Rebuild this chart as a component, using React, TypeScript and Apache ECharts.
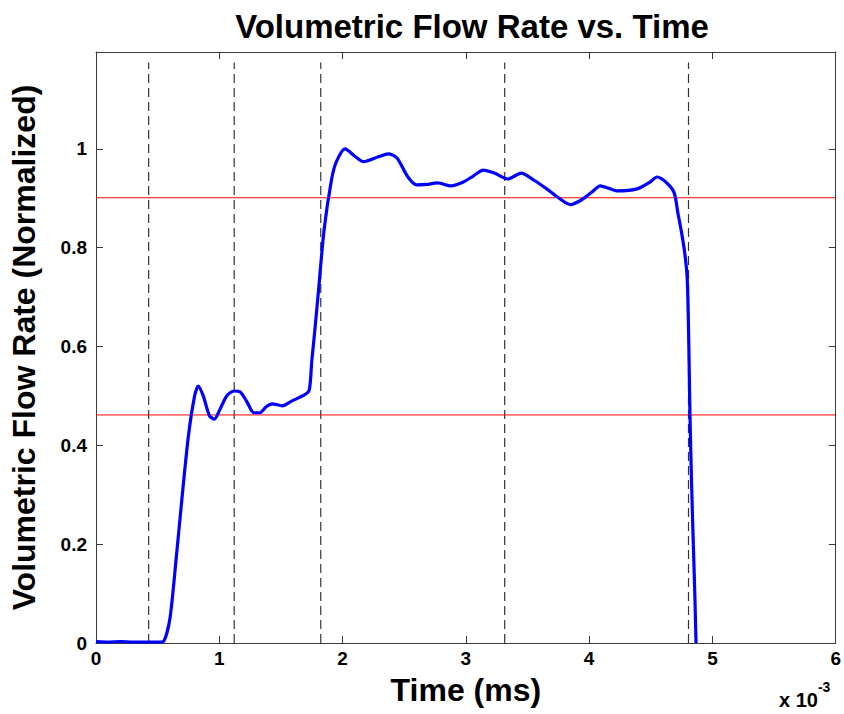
import React, { useEffect, useRef } from "react";
import * as echarts from "echarts";

const timeMs = [0, 0.1, 0.2, 0.3, 0.4, 0.5, 0.55, 0.6, 0.65, 0.7, 0.75, 0.8, 0.83, 0.87, 0.92, 0.96, 1.0, 1.06, 1.12, 1.17, 1.22, 1.28, 1.33, 1.38, 1.43, 1.51, 1.59, 1.69, 1.73, 1.75, 1.77, 1.8, 1.85, 1.91, 1.95, 2.02, 2.1, 2.17, 2.29, 2.37, 2.44, 2.53, 2.6, 2.68, 2.77, 2.88, 2.98, 3.06, 3.14, 3.23, 3.34, 3.45, 3.55, 3.65, 3.74, 3.85, 3.94, 4.02, 4.09, 4.16, 4.23, 4.39, 4.49, 4.55, 4.63, 4.69, 4.72, 4.75, 4.775, 4.795, 4.805, 4.812, 4.818, 4.83, 4.845, 4.857, 4.867];
const flowRate = [0.003, 0.002, 0.003, 0.002, 0.002, 0.002, 0.004, 0.05, 0.17, 0.3, 0.42, 0.5, 0.52, 0.5, 0.46, 0.453, 0.47, 0.5, 0.51, 0.508, 0.49, 0.466, 0.466, 0.478, 0.484, 0.48, 0.49, 0.502, 0.512, 0.57, 0.62, 0.7, 0.836, 0.937, 0.974, 1.0, 0.985, 0.974, 0.984, 0.99, 0.982, 0.943, 0.927, 0.928, 0.931, 0.925, 0.933, 0.945, 0.957, 0.951, 0.939, 0.951, 0.937, 0.92, 0.903, 0.887, 0.897, 0.912, 0.925, 0.92, 0.915, 0.919, 0.932, 0.943, 0.931, 0.911, 0.87, 0.83, 0.79, 0.74, 0.65, 0.55, 0.46, 0.33, 0.2, 0.1, 0.0];
const markerTimes = [0.427, 1.121, 1.823, 3.315, 4.806];
const thresholds = [0.901, 0.4615];
const xTicks = [0, 1, 2, 3, 4, 5, 6];
const yTickLabels = ["0", "0.2", "0.4", "0.6", "0.8", "1"];

const FONT = "Arial, 'Liberation Sans', sans-serif";

export default function App() {
  const ref = useRef<HTMLDivElement>(null);
  useEffect(() => {
    if (!ref.current) return;
    const chart = echarts.init(ref.current, undefined, { renderer: "svg" });
    const frame = "#3a3a3a";
    const labelStyle = { fontFamily: FONT, fontWeight: "bold" as const, fontSize: 19, color: "#000" };
    const lineAxis = { show: true, onZero: false, lineStyle: { color: frame, width: 1 } };
    const tick = { show: true, inside: true, length: 7, lineStyle: { color: frame } };
    const series: any[] = [];
    markerTimes.forEach((t) => {
      series.push({
        type: "line",
        data: [[t, 0], [t, 1.175]],
        symbol: "none",
        silent: true,
        lineStyle: { color: "#333", width: 1.2, type: [9, 5] },
        z: 1,
      });
    });
    thresholds.forEach((v) => {
      series.push({
        type: "line",
        data: [[0, v], [6, v]],
        symbol: "none",
        silent: true,
        lineStyle: { color: "#ff0000", width: 1 },
        z: 2,
      });
    });
    series.push({
      type: "line",
      data: timeMs.map((t, i) => [t, flowRate[i]]),
      symbol: "none",
      smooth: 0.25,
      lineStyle: { color: "#0000ff", width: 3.2 },
      z: 3,
    });
    chart.setOption({
      animation: false,
      backgroundColor: "#fff",
      title: {
        text: "Volumetric Flow Rate vs. Time",
        left: 467,
        textAlign: "center",
        top: 5,
        textStyle: { fontFamily: FONT, fontWeight: "bold", fontSize: 33, color: "#000" },
      },
      grid: { left: 93, right: 7, top: 52, bottom: 71 },
      xAxis: [
        {
          type: "value",
          min: 0,
          max: 6,
          interval: 1,
          name: "Time (ms)",
          nameLocation: "middle",
          nameGap: 31,
          nameTextStyle: { fontFamily: FONT, fontWeight: "bold", fontSize: 32, color: "#000" },
          axisLine: lineAxis,
          axisTick: tick,
          axisLabel: { ...labelStyle, margin: 6, formatter: (v: number) => (xTicks.includes(v) ? String(v) : "") },
          splitLine: { show: false },
        },
        {
          type: "value",
          position: "top",
          min: 0,
          max: 6,
          interval: 1,
          axisLine: lineAxis,
          axisTick: tick,
          axisLabel: { show: false },
          splitLine: { show: false },
        },
      ],
      yAxis: [
        {
          type: "value",
          min: 0,
          max: 1.196,
          interval: 0.2,
          name: "Volumetric Flow Rate (Normalized)",
          nameLocation: "middle",
          nameGap: 56,
          nameTextStyle: { fontFamily: FONT, fontWeight: "bold", fontSize: 32, color: "#000" },
          axisLine: lineAxis,
          axisTick: tick,
          axisLabel: {
            ...labelStyle,
            margin: 9,
            showMaxLabel: false,
            formatter: (v: number) => {
              const i = Math.round(v / 0.2);
              return Math.abs(v - i * 0.2) < 1e-6 && i < yTickLabels.length ? yTickLabels[i] : "";
            },
          },
          splitLine: { show: false },
        },
        {
          type: "value",
          position: "right",
          min: 0,
          max: 1.196,
          interval: 0.2,
          axisLine: lineAxis,
          axisTick: tick,
          axisLabel: { show: false },
          splitLine: { show: false },
        },
      ],
      graphic: [
        {
          type: "text",
          left: 779,
          top: 680,
          style: {
            text: "{a|x 10}{b|-3}",
            rich: {
              a: { fontFamily: FONT, fontWeight: "bold", fontSize: 20, color: "#000", padding: [10, 0, 0, 0] },
              b: { fontFamily: FONT, fontWeight: "bold", fontSize: 14, color: "#000", verticalAlign: "top" },
            },
          },
        },
      ],
      series,
    });
    return () => chart.dispose();
  }, []);
  return <div ref={ref} style={{ width: 844, height: 714, position: "absolute", left: 0, top: 0 }} />;
}
